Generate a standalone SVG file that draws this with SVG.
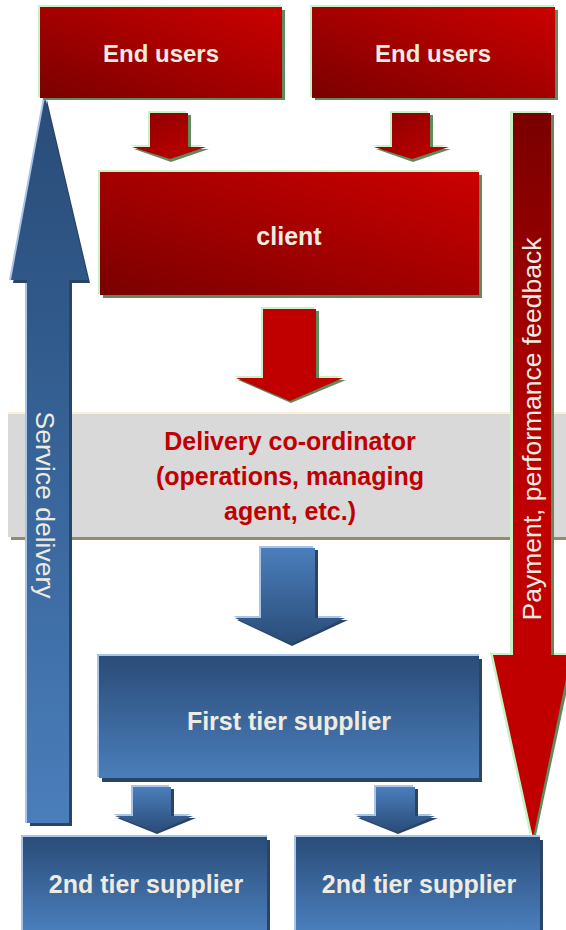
<svg xmlns="http://www.w3.org/2000/svg" width="566" height="930" viewBox="0 0 566 930">
<defs>
<linearGradient id="gRed" x1="0" y1="1" x2="1" y2="0">
<stop offset="0" stop-color="#7a0000"/>
<stop offset="0.45" stop-color="#a00000"/>
<stop offset="1" stop-color="#cc0000"/>
</linearGradient>
<linearGradient id="gRedArrow" x1="0" y1="0" x2="1" y2="1">
<stop offset="0" stop-color="#8a0000"/>
<stop offset="1" stop-color="#c40000"/>
</linearGradient>
<linearGradient id="gRedBar" x1="0" y1="0" x2="0" y2="1">
<stop offset="0" stop-color="#7a0000"/>
<stop offset="0.55" stop-color="#c00000"/>
<stop offset="1" stop-color="#c00000"/>
</linearGradient>
<linearGradient id="gBlueBox" x1="0" y1="0" x2="0" y2="1">
<stop offset="0" stop-color="#2a4c78"/>
<stop offset="1" stop-color="#4a7ebb"/>
</linearGradient>
<linearGradient id="gBlueDown" x1="0" y1="0" x2="0" y2="1">
<stop offset="0" stop-color="#4a7ebb"/>
<stop offset="1" stop-color="#2a4c78"/>
</linearGradient>
<linearGradient id="gBlueUp" x1="0" y1="0" x2="0" y2="1">
<stop offset="0" stop-color="#2a4c78"/>
<stop offset="0.3" stop-color="#30598a"/>
<stop offset="1" stop-color="#4a7ebb"/>
</linearGradient>
</defs>
<style>
.hlR{fill:#c6f2c6}
.shR{fill:#5e8a5e}
.hlB{fill:#a8c4e6}
.shB{fill:#2a4466}
.tW{font-family:"Liberation Sans",Arial,sans-serif;font-weight:bold;font-size:25px;fill:#eeece1;text-anchor:middle}
.tR{font-family:"Liberation Sans",Arial,sans-serif;font-weight:bold;font-size:25px;fill:#c00000;text-anchor:middle}
.tV{font-family:"Liberation Sans",Arial,sans-serif;font-size:26.5px;fill:#eeece1;text-anchor:middle}
</style>

<g id="coordinator">
<rect x="8" y="412" width="558" height="3" fill="#fdf0d6"/>
<rect x="11" y="537" width="555" height="3" fill="#948a6c"/>
<rect x="8" y="414" width="558" height="123" fill="#d9d9d9"/>
<text class="tR" x="290" y="450">Delivery co-ordinator</text>
<text class="tR" x="290" y="485">(operations, managing</text>
<text class="tR" x="290" y="520">agent, etc.)</text>
</g>

<g id="connectors">
<g id="service-delivery">
<polygon class="hlB" points="43,97 86,280 67,280 67,823 25,823 25,280 9,280"/>
<polygon class="shB" points="47,100 90,283 72,283 72,826 30,826 30,283 13,283"/>
<polygon fill="url(#gBlueUp)" points="45,97 88,280 69,280 69,823 27,823 27,280 11,280"/>
<text class="tV" transform="translate(36,505) rotate(90)">Service delivery</text>
</g>
<g id="payment-feedback">
<polygon class="hlR" points="510,111 548,111 548,653 568,653 530,836 490,653 510,653"/>
<polygon class="shR" points="515,115 554,115 554,657 574,657 535,840 496,657 515,657"/>
<polygon fill="url(#gRedBar)" points="513,113 551,113 551,655 571,655 533,838 493,655 513,655"/>
<text class="tV" transform="translate(541,429) rotate(-90)">Payment, performance feedback</text>
</g>
<g id="arrow-eu1">
<polygon class="hlR" points="148,111 186,111 186,145 204,145 168,157 130,145 148,145"/>
<polygon class="shR" points="152,115 191,115 191,149 209,149 171,162 134,149 152,149"/>
<polygon fill="url(#gRedArrow)" points="150,113 188,113 188,147 206,147 170,159 132,147 150,147"/>
</g>
<g id="arrow-eu2">
<polygon class="hlR" points="390,111 428,111 428,145 447,145 410,157 372,145 390,145"/>
<polygon class="shR" points="394,115 433,115 433,149 451,149 413,162 376,149 394,149"/>
<polygon fill="url(#gRedArrow)" points="392,113 430,113 430,147 449,147 412,159 374,147 392,147"/>
</g>
<g id="arrow-client">
<polygon class="hlR" points="261,307 314,307 314,376 341,376 288,399 234,376 261,376"/>
<polygon class="shR" points="265,311 319,311 319,380 346,380 291,403 238,380 265,380"/>
<polygon fill="#c00000" points="263,309 316,309 316,378 343,378 290,401 236,378 263,378"/>
</g>
<g id="arrow-coord">
<polygon class="hlB" points="259,546 313,546 313,616 343,616 289,642 233,616 259,616"/>
<polygon class="shB" points="263,550 318,550 318,620 348,620 292,646 237,620 263,620"/>
<polygon fill="url(#gBlueDown)" points="261,548 315,548 315,618 345,618 291,644 235,618 261,618"/>
</g>
<g id="arrow-t1a">
<polygon class="hlB" points="131,785 169,785 169,814 191,814 154,830 113,814 131,814"/>
<polygon class="shB" points="135,789 174,789 174,818 196,818 157,834 117,818 135,818"/>
<polygon fill="url(#gBlueDown)" points="133,787 171,787 171,816 193,816 156,832 115,816 133,816"/>
</g>
<g id="arrow-t1b">
<polygon class="hlB" points="374,785 413,785 413,814 433,814 395,830 354,814 374,814"/>
<polygon class="shB" points="378,789 418,789 418,818 438,818 398,834 358,818 378,818"/>
<polygon fill="url(#gBlueDown)" points="376,787 415,787 415,816 435,816 397,832 356,816 376,816"/>
</g>
</g>

<g id="end-users-1">
<rect class="hlR" x="38" y="5" width="243" height="92"/>
<rect class="shR" x="43" y="10" width="242" height="90"/>
<rect x="40" y="7" width="242" height="91" fill="url(#gRed)"/>
<text class="tW" x="161" y="62" style="font-size:24px">End users</text>
</g>

<g id="end-users-2">
<rect class="hlR" x="310" y="5" width="244" height="92"/>
<rect class="shR" x="315" y="10" width="243" height="90"/>
<rect x="312" y="7" width="243" height="91" fill="url(#gRed)"/>
<text class="tW" x="433" y="62" style="font-size:24px">End users</text>
</g>

<g id="client">
<rect class="hlR" x="98" y="170" width="381" height="124"/>
<rect class="shR" x="103" y="175" width="379" height="123"/>
<rect x="100" y="172" width="379" height="123" fill="url(#gRed)"/>
<text class="tW" x="289" y="245">client</text>
</g>

<g id="first-tier">
<rect class="hlB" x="97" y="654" width="382" height="123"/>
<rect class="shB" x="102" y="659" width="380" height="123"/>
<rect x="99" y="656" width="380" height="122" fill="url(#gBlueBox)"/>
<text class="tW" x="289" y="730">First tier supplier</text>
</g>

<g id="second-tier-1">
<rect class="hlB" x="21" y="835" width="246" height="95"/>
<rect class="shB" x="26" y="840" width="244" height="90"/>
<rect x="23" y="837" width="244" height="93" fill="url(#gBlueBox)"/>
<text class="tW" x="146" y="893">2nd tier supplier</text>
</g>

<g id="second-tier-2">
<rect class="hlB" x="294" y="835" width="246" height="95"/>
<rect class="shB" x="299" y="840" width="244" height="90"/>
<rect x="296" y="837" width="244" height="93" fill="url(#gBlueBox)"/>
<text class="tW" x="419" y="893">2nd tier supplier</text>
</g>
</svg>
